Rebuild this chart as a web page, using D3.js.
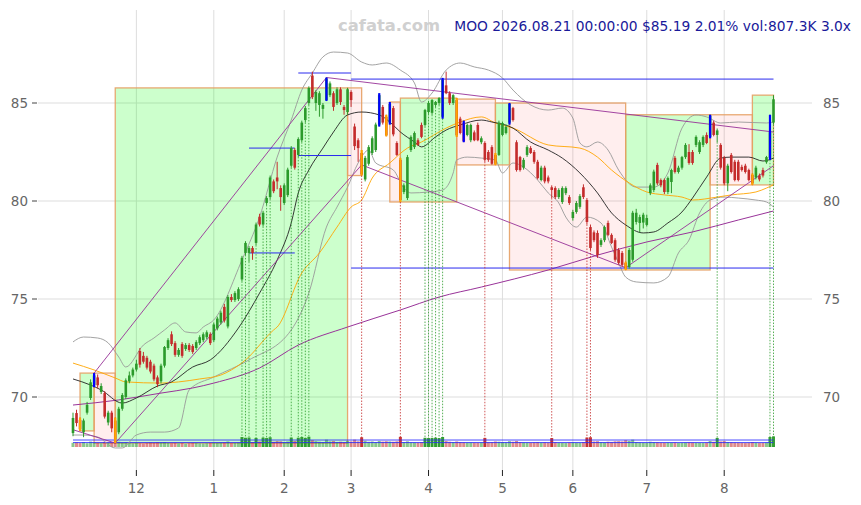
<!DOCTYPE html>
<html><head><meta charset="utf-8">
<script src="https://cdn.jsdelivr.net/npm/d3@7"></script>
<style>body{margin:0;background:#fff}svg{display:block}</style>
</head><body>
<svg id="c" width="861" height="505"></svg>
<script>
// ---------- DATA ----------
const firstDay = "2025-11-04";
const lastDay = "2026-08-21";
const holidays = ["2025-11-27","2025-12-25","2026-01-01","2026-01-19","2026-02-16","2026-04-03","2026-05-25","2026-06-19","2026-07-03"];
// [open, high, low, close]
const ohlc = [
[68.16,69.2,68.0,68.93],[69.18,69.35,68.5,68.67],[68.83,68.95,68.27,68.35],[68.2,68.9,67.95,68.8],[69.2,69.75,69.1,69.6],
[69.95,70.9,69.85,70.75],[70.6,71.22,70.5,71.1],[71.0,71.15,70.45,70.6],[70.26,70.7,70.15,70.56],[70.2,70.3,68.9,69.0],
[68.7,69.3,68.55,69.2],[69.2,69.3,68.2,68.4],[68.8,68.95,67.65,67.85],[68.2,69.5,68.1,69.4],[69.4,70.2,69.3,70.1],
[70.0,70.95,69.9,70.85],[70.8,71.3,70.7,71.1],[71.1,71.5,71.0,71.4],[71.4,71.9,71.3,71.7],[72.35,72.5,71.5,71.65],
[72.1,72.3,71.7,71.8],[72.0,72.1,71.4,71.5],[71.8,71.9,71.2,71.3],[71.6,71.7,70.8,70.9],[71.0,71.1,70.5,70.65],
[70.8,71.7,70.7,71.6],[71.6,72.6,71.5,72.55],[72.5,73.0,72.4,72.9],[73.2,73.35,72.6,72.7],[72.75,72.85,72.05,72.15],
[72.15,72.5,72.05,72.4],[72.7,72.8,72.0,72.1],[72.45,72.75,72.35,72.65],[72.65,72.75,72.3,72.4],[72.6,72.7,72.2,72.3],
[72.5,72.9,72.4,72.8],[72.75,73.15,72.65,73.05],[72.9,73.3,72.8,73.2],[73.05,73.4,72.95,73.3],[73.2,73.3,72.65,72.75],
[72.9,73.8,72.8,73.7],[73.5,74.1,73.4,74.0],[73.8,74.4,73.7,74.3],[74.6,74.75,73.8,73.9],[73.6,75.2,73.5,75.1],
[75.1,75.25,74.85,74.95],[74.95,75.4,74.85,75.3],[75.0,75.6,74.9,75.5],[76.0,77.2,75.9,77.1],[77.35,77.95,77.25,77.86],
[77.35,77.7,76.9,77.6],[77.6,77.7,77.0,77.35],[77.86,78.9,77.75,78.8],[79.2,79.35,78.7,78.8],[78.8,79.5,78.7,79.4],
[79.9,80.25,79.8,80.15],[80.2,81.3,80.1,81.2],[81.0,81.1,80.4,80.5],[81.2,82.0,80.6,81.0],[80.66,80.8,79.5,80.2],
[79.9,80.9,79.8,80.8],[80.3,81.7,80.2,81.6],[81.8,82.8,81.7,82.7],[82.6,82.7,81.6,81.7],[82.35,83.25,82.25,83.16],
[83.1,84.1,83.0,84.0],[84.13,84.85,84.0,84.74],[85.0,85.85,84.9,85.77],[86.4,86.6,85.2,85.3],[85.0,85.65,84.6,85.56],
[84.9,85.6,84.3,85.5],[84.7,85.0,84.2,84.9],[85.15,86.3,85.1,86.25],[85.4,86.1,85.3,86.0],[85.5,85.6,84.6,84.8],
[85.0,85.8,84.9,85.7],[85.7,85.8,84.9,85.05],[84.8,84.9,84.4,84.64],[84.54,85.77,84.4,85.7],[85.56,85.65,84.8,85.15],
[83.8,83.95,82.6,82.8],[83.1,83.2,82.0,82.7],[82.45,82.6,81.3,81.35],[81.1,82.3,81.0,82.2],[81.9,82.85,81.8,82.75],
[82.45,83.3,82.35,83.2],[82.6,84.0,82.5,83.9],[83.9,85.5,83.8,85.4],[84.8,84.9,83.9,84.0],[84.3,84.4,83.3,83.35],
[84.0,85.05,83.9,84.95],[84.74,84.85,83.3,83.4],[82.96,83.05,82.3,82.35],[82.1,82.2,79.95,80.05],[80.46,80.9,80.35,80.8],
[80.15,82.35,80.05,82.24],[82.6,83.35,82.5,83.27],[82.75,83.55,82.65,83.47],[83.1,83.2,82.8,82.86],[83.88,84.0,83.2,83.27],
[83.88,84.7,83.8,84.64],[84.54,85.1,84.45,85.0],[84.5,85.2,84.4,85.15],[84.9,85.1,84.8,85.05],[85.0,85.3,84.9,85.25],
[84.3,86.28,84.2,86.2],[85.9,86.6,85.45,85.5],[85.5,85.6,84.9,85.0],[85.0,85.45,84.9,85.4],[85.15,85.25,83.27,83.35],
[84.2,84.3,83.4,83.47],[84.0,84.1,83.0,83.05],[83.37,83.95,83.3,83.88],[83.1,83.95,83.0,83.88],[83.5,83.6,83.05,83.1],
[83.88,84.0,83.05,83.1],[83.0,83.3,82.9,83.2],[82.96,83.05,82.0,82.1],[82.5,82.6,82.0,82.1],[82.75,82.85,81.85,81.9],
[82.35,82.45,81.84,81.9],[82.35,84.1,82.3,84.0],[83.37,84.05,83.3,83.98],[83.47,83.9,83.4,83.78],[84.0,85.0,83.9,84.95],
[84.74,84.8,84.05,84.13],[83.0,83.1,81.5,81.58],[82.24,82.3,81.5,81.58],[81.7,82.2,81.6,82.1],[82.35,82.85,82.25,82.75],
[82.7,82.8,82.4,82.45],[82.5,82.6,81.9,82.0],[82.0,82.1,81.1,81.17],[81.07,81.8,81.0,81.7],[81.7,81.8,80.9,81.0],
[81.2,81.3,80.9,81.0],[80.7,80.8,80.15,80.56],[80.66,80.75,80.1,80.2],[80.2,80.65,80.1,80.56],[79.95,80.75,79.85,80.66],
[80.4,80.75,80.3,80.66],[80.2,80.3,79.8,79.9],[79.13,79.55,79.0,79.44],[79.44,80.0,79.35,79.9],[79.7,80.35,79.6,80.25],
[80.7,80.85,80.1,80.2],[80.05,80.15,78.8,78.93],[78.67,78.8,77.5,77.6],[78.4,78.5,77.9,78.0],[78.37,78.5,77.1,77.24],
[77.76,78.1,77.65,78.0],[78.0,78.75,77.9,78.67],[78.88,79.0,78.2,78.27],[78.27,78.35,77.8,77.86],[78.0,78.1,76.9,77.0],
[77.5,77.6,76.75,76.84],[77.35,77.45,76.65,76.74],[76.84,76.9,76.48,76.55],[76.63,77.6,76.55,77.5],[77.0,79.5,76.9,79.4],
[78.93,79.6,78.8,79.4],[78.88,79.3,78.4,79.18],[78.9,79.4,78.6,79.3],[78.78,79.3,78.7,79.13],[80.4,80.9,80.3,80.8],
[80.56,81.6,80.45,81.5],[81.84,81.95,80.8,80.9],[81.07,81.15,80.7,80.8],[81.07,81.15,80.35,80.46],[80.46,81.25,80.35,81.17],
[80.97,81.65,80.4,81.58],[82.2,82.3,81.4,81.48],[81.48,81.8,81.4,81.7],[81.7,82.3,81.6,82.24],[82.24,82.95,82.15,82.86],
[82.5,82.9,81.85,81.94],[82.5,82.6,81.85,81.94],[82.86,83.35,82.75,83.27],[82.5,83.1,82.4,83.0],[82.86,83.35,82.75,83.27],
[83.37,83.5,82.9,82.96],[83.27,84.4,83.2,84.35],[84.0,84.1,83.3,83.37],[83.37,83.7,83.0,83.6],[82.86,82.95,81.6,81.7],
[82.2,82.3,80.8,80.9],[80.9,81.9,80.5,81.8],[82.35,82.45,81.4,81.48],[82.0,82.1,81.0,81.07],[82.0,82.1,81.0,81.07],
[81.74,81.85,81.5,81.58],[81.8,81.9,81.4,81.48],[81.58,81.65,81.0,81.07],[81.33,81.4,80.82,80.9],[81.2,81.8,81.1,81.7],
[81.3,81.4,81.0,81.1],[81.58,81.7,81.2,81.3],[81.98,82.3,81.9,82.24],[82.2,84.4,82.1,83.51],[84.0,85.4,83.9,85.19]
];
const volumes = [
320,350,300,380,290,410,360,300,280,390, 310,340,520,400,330,360,300,280,310,290,
270,300,340,320,360,350,380,300,290,310, 280,300,260,290,310,300,280,270,290,300,
330,310,350,360,420,300,320,340,760,700, 720,380,690,420,710,680,740,400,450,430,
380,420,720,460,700,760,690,780,520,440, 400,380,560,420,450,380,400,360,470,420,
560,430,740,470,400,420,380,460,410,440, 420,400,430,770,380,430,360,350,330,380,
700,680,690,710,680,760,450,400,380,420, 380,360,340,350,330,320,340,690,360,380,
420,400,380,360,440,400,460,380,350,340, 330,360,380,340,360,330,680,360,320,310,
300,340,360,330,320,380,720,740,420,440, 380,360,400,390,430,440,420,520,460,560,
380,350,330,320,400,380,360,330,320,340, 330,350,300,320,340,360,340,320,310,300,
330,460,400,690,420,450,380,360,340,330, 310,300,320,380,330,300,310,340,760,807.3
];
const volumeLevels = [530, 335];
const pivotHighs = [6,72,87,90,105,111,124,181,198];
const pivotLows = [2,12,82,89,93,109,120,157,193];
const signalUp = [48,49,50,52,54,55,56,62,64,65,66,67,100,101,102,103,104,105,183,198,199];
const signalDown = [82,93,117,136,146,147];
// [fromIndex, toIndex, top, bottom, direction]
const boxes = [
[2,6,71.22,68.27,"up"],[6,12,71.22,67.65,"down"],[12,78,85.77,67.65,"up"],[78,82,85.77,81.3,"down"],
[90,93,85.05,79.95,"down"],[93,109,85.25,79.95,"up"],[109,120,85.2,81.84,"down"],[120,124,85.0,81.84,"up"],
[124,157,85.0,76.48,"down"],[157,181,84.4,76.48,"up"],[181,193,84.4,80.82,"down"],[193,199,85.4,80.82,"up"]
];
// [fromIndex, fromPrice, toIndex, toPrice]
const trendLines = [
[0,68.33,12,67.65],[6,71.22,72,86.3],[12,67.65,82,81.84],[72,86.3,199,83.52],[82,81.84,157,76.6],[157,76.6,199,81.8]
];
// [fromIndex, toIndex, price]
const levels = [[50,63,82.7],[50,63,77.35],[64,79,82.32],[64,79,86.53],[79,199,86.22],[79,199,76.58]];
const ma20 = [[0,70.92],[5,70.61],[8,70.36],[14,69.69],[18,69.95],[24,70.56],[28,70.77],[34,71.53],[39,71.89],[47,73.52],[53,75.3],[58,76.99],[62,78.88],[64,80.41],[67,81.58],[71,82.7],[74,83.52],[78,84.39],[82,84.54],[87,84.39],[90,84.03],[93,83.52],[97,83.01],[99,82.76],[103,83.27],[106,83.62],[110,83.88],[116,84.13],[119,84.03],[125,83.72],[130,83.01],[135,82.6],[139,82.19],[144,81.43],[149,80.41],[153,79.39],[157,78.78],[162,78.37],[165,78.42],[169,78.88],[173,79.44],[176,80.15],[180,81.22],[184,82.19],[187,82.24],[192,82.24],[196,82.04],[199,82.19]];
const ma50 = [[0,71.73],[6,71.38],[12,70.97],[15,70.77],[25,70.71],[30,70.77],[36,70.92],[42,71.12],[45,71.38],[49,71.89],[57,73.42],[58,73.57],[65,76.33],[70,77.35],[75,78.67],[79,79.69],[82,80.05],[85,81.17],[90,81.94],[95,82.7],[99,83.01],[106,83.72],[110,84.03],[116,84.29],[120,83.98],[125,83.72],[135,82.86],[144,82.7],[149,82.24],[153,81.58],[158,80.92],[163,80.46],[168,80.31],[173,80.2],[176,80.05],[183,80.2],[187,80.31],[194,80.46],[197,80.66],[199,80.82]];
const ma200 = [[0,69.59],[13,69.85],[25,70.2],[34,70.46],[40,70.71],[53,71.48],[64,72.65],[78,73.57],[93,74.44],[104,75.1],[116,75.61],[135,76.48],[149,77.24],[163,77.91],[176,78.42],[189,79.03],[199,79.49]];
const bbUpper = [[0,72.81],[3,73.06],[7,73.01],[10,72.76],[13,72.04],[15,71.53],[20,72.65],[23,73.01],[26,73.42],[29,73.78],[32,73.32],[35,73.27],[37,73.57],[40,73.93],[48,76.99],[53,79.18],[58,82.24],[62,84.13],[65,85.66],[68,86.53],[71,87.35],[74,87.6],[78,87.55],[82,87.09],[85,86.94],[89,87.04],[93,86.68],[97,86.02],[99,85.05],[102,85.51],[106,86.68],[110,87.04],[114,86.84],[118,86.68],[122,86.28],[125,85.66],[130,84.9],[135,84.64],[139,84.74],[142,84.23],[144,82.96],[146,82.76],[149,83.01],[152,82.6],[155,81.58],[160,80.71],[165,80.71],[169,81.43],[173,83.72],[177,84.39],[180,84.29],[184,83.98],[189,84.03],[197,83.98],[199,84.03]];
const bbLower = [[0,68.06],[3,68.06],[7,67.96],[12,67.4],[14,67.4],[18,68.06],[22,68.21],[26,68.21],[30,68.42],[33,70.36],[40,71.02],[50,71.89],[62,73.42],[67,75.31],[72,78.67],[75,79.69],[78,80.71],[81,81.94],[84,82.6],[86,81.94],[91,81.58],[94,80.66],[96,80.41],[101,80.46],[105,80.56],[108,81.43],[109,82.09],[112,82.24],[116,82.19],[120,82.09],[122,81.43],[125,81.94],[128,81.73],[132,81.07],[135,80.41],[138,79.9],[140,79.18],[143,78.67],[146,79.18],[150,78.88],[153,77.65],[155,76.84],[157,76.12],[160,75.87],[165,75.82],[169,76.12],[172,77.35],[175,78.01],[178,79.39],[181,80.05],[185,80.2],[189,80.15],[194,80.05],[197,79.95],[199,79.69]];
const yTicks = [70, 75, 80, 85];
const watermark = "cafata.com";
const title = "MOO 2026.08.21 00:00:00 $85.19 2.01% vol:807.3K 3.0x";

(function(){
// ---------- TRADING DAYS ----------
const fmt = d3.utcFormat("%Y-%m-%d");
const dates = d3.utcDays(new Date(firstDay+"T00:00:00Z"), d3.utcDay.offset(new Date(lastDay+"T00:00:00Z"),1))
  .filter(d => d.getUTCDay()!==0 && d.getUTCDay()!==6 && !holidays.includes(fmt(d)));
const monthStarts = [];
dates.forEach((d,i)=>{ if(i>0 && d.getUTCMonth()!==dates[i-1].getUTCMonth()) monthStarts.push(i); });

// ---------- SCALES ----------
const svg = d3.select("#c");
const x = d3.scaleLinear().domain([0, ohlc.length-1]).range([73, 773.5]);
const y = d3.scaleLinear().domain([70, 85]).range([397, 103]);
const pTop = 10, pBottom = 470, pLeft = 38, pRight = 812;
const vBase = 447;
const vy = d3.scaleLinear().domain([0, 760]).range([vBase, vBase-10]);
const bw = 2.6, vbw = 3.0;

const g = svg.append("g");
// grid
g.selectAll(".hg").data(yTicks).join("line")
  .attr("x1",pLeft).attr("x2",pRight).attr("y1",d=>y(d)).attr("y2",d=>y(d))
  .attr("stroke","#dddddd").attr("stroke-width",1);
g.selectAll(".vg").data(monthStarts).join("line")
  .attr("x1",d=>x(d)).attr("x2",d=>x(d)).attr("y1",pTop).attr("y2",pBottom)
  .attr("stroke","#dddddd").attr("stroke-width",1);

// boxes
g.selectAll(".box").data(boxes).join("rect")
  .attr("x",d=>x(d[0])).attr("width",d=>x(d[1])-x(d[0]))
  .attr("y",d=>y(d[2])).attr("height",d=>y(d[3])-y(d[2]))
  .attr("fill",d=>d[4]==="up"?"rgba(0,255,0,0.2)":"rgba(255,40,40,0.08)")
  .attr("stroke","#e6a064").attr("stroke-opacity",0.9).attr("stroke-width",1.3);

// axes
const axB = g.append("g");
axB.selectAll("line").data(monthStarts).join("line")
  .attr("x1",d=>x(d)).attr("x2",d=>x(d)).attr("y1",pBottom).attr("y2",pBottom+6)
  .attr("stroke","#222").attr("stroke-width",1);
axB.selectAll("text").data(monthStarts).join("text")
  .attr("x",d=>x(d)).attr("y",pBottom+23).attr("text-anchor","middle")
  .attr("font-family","DejaVu Sans").attr("font-size",13.5).attr("fill","#666")
  .text(d=>dates[d].getUTCMonth()+1);
const axL = g.append("g");
axL.selectAll("line").data(yTicks).join("line")
  .attr("x1",32).attr("x2",37).attr("y1",d=>y(d)).attr("y2",d=>y(d)).attr("stroke","#444");
axL.selectAll("text").data(yTicks).join("text")
  .attr("x",28).attr("y",d=>y(d)+5).attr("text-anchor","end")
  .attr("font-family","DejaVu Sans").attr("font-size",13.5).attr("fill","#666").text(d=>d);
const axR = g.append("g");
axR.selectAll("text").data(yTicks).join("text")
  .attr("x",823).attr("y",d=>y(d)+5).attr("text-anchor","start")
  .attr("font-family","DejaVu Sans").attr("font-size",13.5).attr("fill","#666").text(d=>d);

// volume
const sigSet = new Set(signalUp.concat(signalDown));
g.selectAll(".vol").data(volumes).join("rect")
  .attr("x",(d,i)=>x(i)-vbw/2).attr("width",vbw)
  .attr("y",d=>vy(d)).attr("height",d=>vBase-vy(d))
  .attr("fill",(d,i)=>ohlc[i][3]>=ohlc[i][0]?"#2b9a2b":"#c42b2b")
  .attr("opacity",(d,i)=>sigSet.has(i)?0.95:0.55);
g.selectAll(".vlev").data(volumeLevels).join("line")
  .attr("x1",x(0)).attr("x2",x(ohlc.length-1)).attr("y1",d=>vy(d)).attr("y2",d=>vy(d))
  .attr("stroke","#2a2aff").attr("stroke-width",1).attr("opacity",0.85);

// bollinger + MAs
const line = d3.line().x(d=>x(d[0])).y(d=>y(d[1])).curve(d3.curveMonotoneX);
[[bbUpper,"#999",0.9],[bbLower,"#999",0.9],[ma200,"#993399",1],[ma50,"#ffa500",0.9],[ma20,"#222",0.9]].forEach(([data,col,w])=>{
  g.append("path").attr("d",line(data)).attr("fill","none").attr("stroke",col).attr("stroke-width",w);
});

// trend lines
g.selectAll(".tl").data(trendLines).join("line")
  .attr("x1",d=>x(d[0])).attr("y1",d=>y(d[1])).attr("x2",d=>x(d[2])).attr("y2",d=>y(d[3]))
  .attr("stroke","#993399").attr("stroke-width",1).attr("opacity",0.9);

// levels
g.selectAll(".lv").data(levels).join("line")
  .attr("x1",d=>x(d[0])).attr("x2",d=>x(d[1])).attr("y1",d=>y(d[2])).attr("y2",d=>y(d[2]))
  .attr("stroke","#2a2aee").attr("stroke-width",1);

// signal dotted lines
g.selectAll(".su").data(signalUp).join("line")
  .attr("x1",d=>x(d)).attr("x2",d=>x(d)).attr("y1",d=>y(ohlc[d][2])).attr("y2",vBase)
  .attr("stroke","#2b9a2b").attr("stroke-width",0.8).attr("stroke-dasharray","1.5,1.5");
g.selectAll(".sd").data(signalDown).join("line")
  .attr("x1",d=>x(d)).attr("x2",d=>x(d)).attr("y1",d=>y(ohlc[d][2])).attr("y2",vBase)
  .attr("stroke","#c42b2b").attr("stroke-width",0.8).attr("stroke-dasharray","1.5,1.5");

// candles
const cg = g.append("g");
ohlc.forEach((d,i)=>{
  const [o,h,l,c] = d;
  const col = c>=o ? "#2b9a2b" : "#c42b2b";
  cg.append("line").attr("x1",x(i)).attr("x2",x(i)).attr("y1",y(h)).attr("y2",y(l)).attr("stroke",col).attr("stroke-width",1);
  cg.append("rect").attr("x",x(i)-bw/2).attr("width",bw)
    .attr("y",y(Math.max(o,c))).attr("height",Math.max(1,Math.abs(y(o)-y(c)))).attr("fill",col);
});
// pivots
g.selectAll(".ph").data(pivotHighs).join("line")
  .attr("x1",d=>x(d)).attr("x2",d=>x(d)).attr("y1",d=>y(ohlc[d][1])).attr("y2",d=>y(ohlc[d][2]))
  .attr("stroke","#0000ff").attr("stroke-width",2.2);
g.selectAll(".pl").data(pivotLows).join("line")
  .attr("x1",d=>x(d)).attr("x2",d=>x(d)).attr("y1",d=>y(ohlc[d][1])).attr("y2",d=>y(ohlc[d][2]))
  .attr("stroke","#ffa500").attr("stroke-width",2.2);

// texts
svg.append("text").attr("x",338).attr("y",31).attr("font-family","DejaVu Sans").attr("font-weight","bold")
  .attr("font-size",16.4).attr("fill","#d0d0d0").text(watermark);
svg.append("text").attr("x",851).attr("y",31).attr("text-anchor","end").attr("font-family","DejaVu Sans")
  .attr("font-size",13.8).attr("fill","#1a1a9a").text(title);
})();
</script>
</body></html>
